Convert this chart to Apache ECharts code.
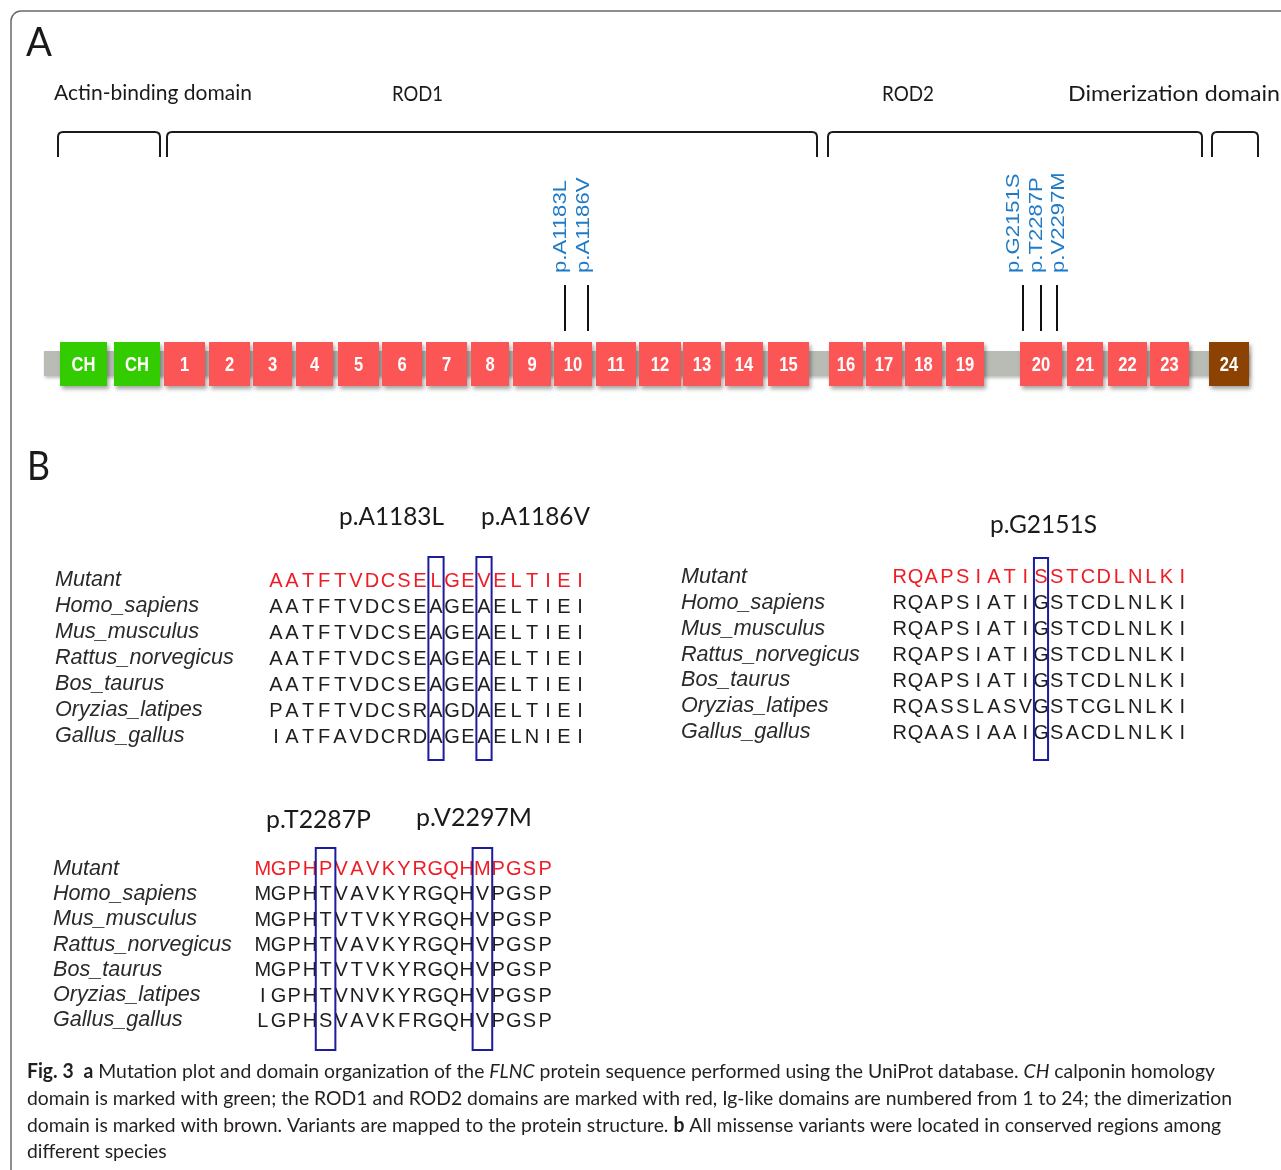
<!DOCTYPE html>
<html><head><meta charset="utf-8">
<script src="https://cdn.jsdelivr.net/npm/echarts@6/dist/echarts.min.js"></script>
<style>html,body{margin:0;padding:0;background:#fff}#c{width:1281px;height:1170px}</style>
</head><body><div id="c"></div>
<script>
// ================= DATA =================
// Panel A: protein map (positions along the drawn map, left->right)
const domainLabels = ['CH','CH','1','2','3','4','5','6','7','8','9','10','11','12','13','14','15','16','17','18','19','20','21','22','23','24'];
const domainKind   = ['ch','ch','ig','ig','ig','ig','ig','ig','ig','ig','ig','ig','ig','ig','ig','ig','ig','ig','ig','ig','ig','ig','ig','ig','ig','dim'];
const domainStart  = [60,114,164,209,253,296,338,382,426,471,513,554,596,639,683,725,768,829,866,905,946,1020,1067,1108,1150,1209];
const domainEnd    = [107,160,205,250,292,333,379,422,467,509,551,592,636,681,721,763,809,863,902,942,984,1062,1103,1147,1189,1249];
const backboneStart = [44];
const backboneEnd   = [1249];
const regionNames = ['Actin-binding domain','ROD1','ROD2','Dimerization domain'];
const regionStart = [58,167,828,1212];
const regionEnd   = [160,817,1202,1258];
const mutationNames    = ['p.A1183L','p.A1186V','p.G2151S','p.T2287P','p.V2297M'];
const mutationPos      = [565,588,1023,1041,1057];
const mutationLabelPos = [561,584,1014,1037,1059];

// Panel B: alignments
const species = ['Mutant','Homo_sapiens','Mus_musculus','Rattus_norvegicus','Bos_taurus','Oryzias_latipes','Gallus_gallus'];
const seqA = ['AATFTVDCSELGEVELTIEI','AATFTVDCSEAGEAELTIEI','AATFTVDCSEAGEAELTIEI','AATFTVDCSEAGEAELTIEI','AATFTVDCSEAGEAELTIEI','PATFTVDCSRAGDAELTIEI','IATFAVDCRDAGEAELNIEI'];
const boxColsA = [11,14];
const seqB = ['RQAPSIATISSTCDLNLKI','RQAPSIATIGSTCDLNLKI','RQAPSIATIGSTCDLNLKI','RQAPSIATIGSTCDLNLKI','RQAPSIATIGSTCDLNLKI','RQASSLASVGSTCGLNLKI','RQAASIAAIGSACDLNLKI'];
const boxColsB = [10];
const seqC = ['MGPHPVAVKYRGQHMPGSP','MGPHTVAVKYRGQHVPGSP','MGPHTVTVKYRGQHVPGSP','MGPHTVAVKYRGQHVPGSP','MGPHTVTVKYRGQHVPGSP','IGPHTVNVKYRGQHVPGSP','LGPHSVAVKFRGQHVPGSP'];
const boxColsC = [5,15];

// ================= LAYOUT / STYLE =================
const mctx = document.createElement('canvas').getContext('2d');
function measure(text, font){ mctx.font = font; return mctx.measureText(text).width; }
const CAL = 'Lato, "Open Sans", sans-serif';
const ARIAL = 'Arial, "Liberation Sans", sans-serif';

const TRACK_TOP = 342, TRACK_H = 44, BB_TOP = 351, BB_H = 25;
const BR_TOP = 132, BR_BOT = 157;
const MUT_TOP = 285, MUT_BOT = 331, MUT_LABEL_BASE = 273;
const colors = {ch:'#33cc00', ig:'#fb5555', dim:'#8c4202'};

const panels = [
  {seq: seqA, box: boxColsA, left:268, width:320, top:567, height:182, nameX:55, boxW:0.95, boxTop:10, boxBot:11},
  {seq: seqB, box: boxColsB, left:892, width:298, top:564, height:181, nameX:681, boxW:0.9, boxTop:6, boxBot:15},
  {seq: seqC, box: boxColsC, left:255, width:298, top:856, height:177, nameX:53, boxW:1.25, boxTop:8, boxBot:17}
];

const grids = [{left:0, top:0, width:1281, height:1170}];
const xAxes = [{gridIndex:0, type:'value', min:0, max:1281, show:false}];
const yAxes = [{gridIndex:0, type:'value', min:0, max:1, show:false}];
const series = [];

// backbone
series.push({type:'custom', xAxisIndex:0, yAxisIndex:0, silent:true, z:1,
  data: backboneStart.map((s,i)=>[s, backboneEnd[i]]),
  renderItem(params, api){
    const x0 = api.coord([api.value(0),0])[0], x1 = api.coord([api.value(1),0])[0];
    return {type:'rect', shape:{x:x0, y:BB_TOP, width:x1-x0, height:BB_H},
      style:{fill:'#b9bcb5', shadowBlur:3, shadowOffsetX:1, shadowOffsetY:2, shadowColor:'rgba(0,0,0,0.25)'}};
  }});
// domains
series.push({type:'custom', xAxisIndex:0, yAxisIndex:0, silent:true, z:2,
  data: domainStart.map((s,i)=>[s, domainEnd[i], i]),
  renderItem(params, api){
    const i = params.dataIndex;
    const x0 = api.coord([api.value(0),0])[0], x1 = api.coord([api.value(1),0])[0];
    return {type:'group', children:[
      {type:'rect', shape:{x:x0, y:TRACK_TOP, width:x1-x0, height:TRACK_H},
        style:{fill:colors[domainKind[i]], shadowBlur:4, shadowOffsetX:2, shadowOffsetY:3, shadowColor:'rgba(0,0,0,0.35)'}},
      {type:'text', x:(x0+x1)/2, y:TRACK_TOP+TRACK_H/2+2, scaleX:0.92, scaleY:1.08,
        style:{text:domainLabels[i], fill:'#ffffff', font:'bold 18px ' + ARIAL, align:'center', verticalAlign:'middle'}}
    ]};
  }});
// region brackets
series.push({type:'custom', xAxisIndex:0, yAxisIndex:0, silent:true, z:2,
  data: regionStart.map((s,i)=>[s, regionEnd[i]]),
  renderItem(params, api){
    const x0 = api.coord([api.value(0),0])[0], x1 = api.coord([api.value(1),0])[0];
    const r = 5;
    const d = `M${x0} ${BR_BOT} L${x0} ${BR_TOP+r} Q${x0} ${BR_TOP} ${x0+r} ${BR_TOP} L${x1-r} ${BR_TOP} Q${x1} ${BR_TOP} ${x1} ${BR_TOP+r} L${x1} ${BR_BOT}`;
    return {type:'path', shape:{pathData:d}, style:{fill:null, stroke:'#1a1a1a', lineWidth:2}};
  }});
// mutations
const mutFont = '19px ' + ARIAL;
const mutScale = 93 / measure('p.A1183L', mutFont);
series.push({type:'custom', xAxisIndex:0, yAxisIndex:0, silent:true, z:3,
  data: mutationPos.map((p,i)=>[p, mutationLabelPos[i], i]),
  renderItem(params, api){
    const i = params.dataIndex;
    const x = api.coord([api.value(0),0])[0], lx = api.coord([api.value(1),0])[0];
    return {type:'group', children:[
      {type:'line', shape:{x1:x, y1:MUT_TOP, x2:x, y2:MUT_BOT}, style:{stroke:'#111', lineWidth:2}},
      {type:'text', x:lx, y:MUT_LABEL_BASE, rotation:Math.PI/2, scaleX:mutScale, scaleY:1,
        style:{text:mutationNames[i], fill:'#1f7bc6', font:mutFont, align:'left', verticalAlign:'middle'}}
    ]};
  }});

// alignment panels
panels.forEach((p, k)=>{
  const gi = k+1;
  const n = p.seq[0].length;
  grids.push({left:p.left, top:p.top, width:p.width, height:p.height});
  xAxes.push({gridIndex:gi, type:'value', min:0.5, max:n+0.5, show:false});
  yAxes.push({gridIndex:gi, type:'category', data:species, inverse:true,
    axisLine:{show:false}, axisTick:{show:false}, splitLine:{show:false},
    axisLabel:{show:true, interval:0, hideOverlap:false, align:'left', margin:p.left - p.nameX, fontStyle:'italic', fontSize:21.6,
      fontFamily:ARIAL, color:'#2a2a2a'}});
  const letters = [];
  p.seq.forEach((s, r)=>{ for (let c=0;c<s.length;c++) letters.push([c+1, r, s[c], r===0?1:0]); });
  series.push({type:'custom', xAxisIndex:gi, yAxisIndex:gi, silent:true, z:3, data:letters,
    renderItem(params, api){
      const pt = api.coord([api.value(0), api.value(1)]);
      const d = letters[params.dataIndex];
      return {type:'text', x:pt[0], y:pt[1]+1,
        style:{text:d[2], fill: d[3] ? '#ee1c25' : '#1e1e1e', font:'20px ' + ARIAL, align:'center', verticalAlign:'middle'}};
    }});
  series.push({type:'custom', xAxisIndex:gi, yAxisIndex:gi, silent:true, z:4,
    data: p.box.map(c=>[c, 0]),
    renderItem(params, api){
      const c = api.value(0);
      const x0 = api.coord([c - p.boxW/2, 0])[0], x1 = api.coord([c + p.boxW/2, 0])[0];
      const cs = params.coordSys;
      return {type:'rect', shape:{x:x0, y:cs.y - p.boxTop, width:x1-x0, height:cs.height + p.boxTop + p.boxBot},
        style:{fill:null, stroke:'#1c1c9c', lineWidth:2}};
    }});
});

// ================= TEXT / DECORATION =================
function fitText(text, x, y, font, target, color, align){
  const s = target ? target / measure(text, font) : 1;
  return {type:'text', x:x, y:y, scaleX:s, scaleY:1, silent:true,
    style:{text:text, font:font, fill:color||'#1a1a1a', align:align||'left', verticalAlign:'middle'}};
}
const graphics = [
  {type:'rect', shape:{x:11, y:11, width:1500, height:1400, r:10}, style:{fill:null, stroke:'#6a6a6a', lineWidth:1.5}, silent:true, z:0},
  fitText('A', 26, 43, '40px ' + CAL, 26),
  fitText('B', 27, 467, '40px ' + CAL, 23),
  fitText('Actin-binding domain', 54, 93, '22px ' + CAL, 198),
  fitText('ROD1', 392, 94, '22px ' + CAL, 51),
  fitText('ROD2', 882, 94, '22px ' + CAL, 52),
  fitText('Dimerization domain', 1068, 94, '22px ' + CAL, 212),
  fitText('p.A1183L', 339, 517, '25px ' + CAL, 105),
  fitText('p.A1186V', 481, 517, '25px ' + CAL, 109),
  fitText('p.G2151S', 990, 525, '25px ' + CAL, 107),
  fitText('p.T2287P', 266, 820, '25px ' + CAL, 105),
  fitText('p.V2297M', 416, 818, '25px ' + CAL, 116)
];

// caption
const capFont = '20px ' + CAL;
const capLines = [
  ['{b|Fig. 3}  {b|a} Mutation plot and domain organization of the {i|FLNC} protein sequence performed using the UniProt database. {i|CH} calponin homology'],
  ['domain is marked with green; the ROD1 and ROD2 domains are marked with red, Ig-like domains are numbered from 1 to 24; the dimerization'],
  ['domain is marked with brown. Variants are mapped to the protein structure. {b|b} All missense variants were located in conserved regions among'],
  ['different species']
];
const capScale = 1205 / measure(capLines[1][0], capFont);
const capY = [1072, 1099, 1126, 1152];
capLines.forEach((l, i)=>{
  graphics.push({type:'text', x:27, y:capY[i], scaleX:capScale, silent:true,
    style:{text:l[0], font:capFont, fill:'#231f20', align:'left', verticalAlign:'middle',
      rich:{
        b:{fontFamily:CAL, fontSize:20, fontWeight:'bold', fill:'#231f20'},
        i:{fontFamily:CAL, fontSize:20, fontStyle:'italic', fill:'#231f20'}
      }}});
});

const chart = echarts.init(document.getElementById('c'), null, {renderer:'canvas', width:1281, height:1170});
chart.setOption({
  animation:false,
  backgroundColor:'#ffffff',
  grid: grids, xAxis: xAxes, yAxis: yAxes, series: series,
  graphic: graphics
});
</script></body></html>
